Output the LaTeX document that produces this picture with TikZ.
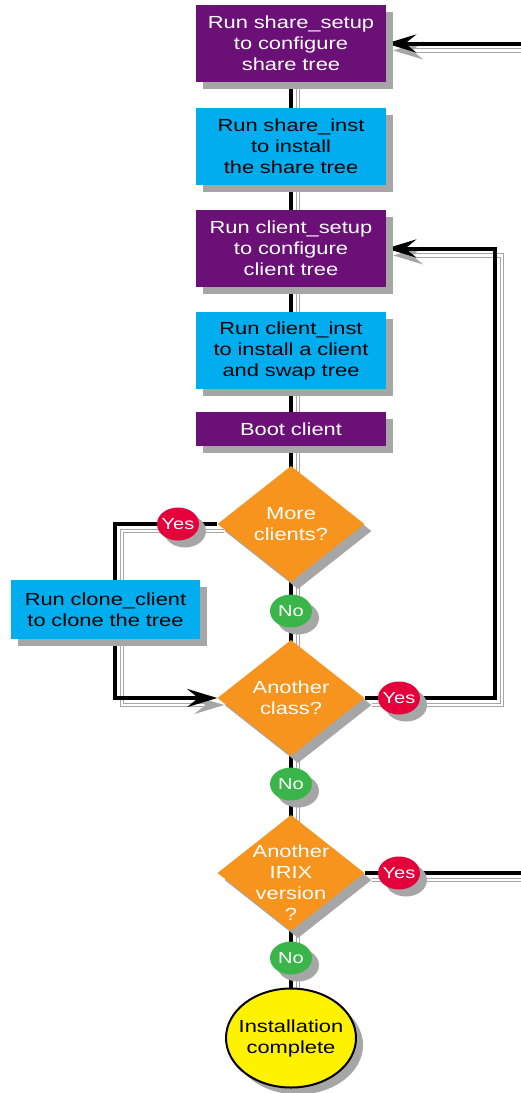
\documentclass[tikz,border=0pt]{standalone}
\usepackage{fontspec}
\setmainfont{Liberation Sans}[FakeStretch=1.25]
\usetikzlibrary{arrows.meta, shapes.geometric, shadows}
\definecolor{Plum}{HTML}{6B1077}
\definecolor{Sky}{HTML}{00AEEF}
\definecolor{Amber}{HTML}{F7941D}
\definecolor{Crimson}{HTML}{E4003B}
\definecolor{Leaf}{HTML}{39B54A}
\definecolor{Lemon}{HTML}{FFF200}
\pgfdeclarelayer{bg}
\pgfsetlayers{bg,main}

\tikzset{
  boxfont/.style={font=\fontsize{17.5}{21}\selectfont},
  shade/.style={drop shadow={shadow xshift=7pt, shadow yshift=-7pt, fill=black!35, opacity=1}},
  setupbox/.style={boxfont, shade, fill=Plum, text=white, minimum width=190pt, minimum height=77pt,
    text width=184pt, align=center, inner sep=0pt},
  instbox/.style={setupbox, fill=Sky, text=black},
  decision/.style={shade, diamond, fill=Amber, minimum width=147pt, minimum height=116pt, inner sep=0pt},
  dlabel/.style={boxfont, text=white, align=center},
  answer/.style={shade, ellipse, minimum width=42pt, minimum height=33pt, inner xsep=-4pt, inner ysep=0pt,
    text=white, font=\fontsize{16}{19}\selectfont},
  yesmark/.style={answer, fill=Crimson},
  nomark/.style={answer, fill=Leaf},
  endmark/.style={shade, ellipse, draw, line width=2pt, fill=Lemon, minimum width=130pt, minimum height=99pt, inner sep=0pt},
  link/.style={line width=4pt, preaction={draw=black!35, line width=1.2pt, double=white, double distance=2.5pt,
    transform canvas={shift={(7,7)}}}},
}

\begin{document}
\begin{tikzpicture}[x=1pt, y=-1pt, >={Stealth[length=30pt, width=18pt, inset=11pt]}]
  \useasboundingbox (0,0) rectangle (521,1093);

  \node (setshare) [setupbox] at (291,43.5) {Run share\_setup\\to configure\\share tree};
  \node (instshare) [instbox] at (291,146.5) {Run share\_inst\\to install\\the share tree};
  \node (setclient) [setupbox] at (291,248.5) {Run client\_setup\\to configure\\client tree};
  \node (instclient) [instbox] at (291,350.5) {Run client\_inst\\to install a client\\and swap tree};
  \node (boot) [setupbox, minimum height=34pt] at (291,429) {Boot client};

  \node (more) [decision, label={[dlabel]center:More\\clients?}] at (291,524) {};
  \node (yes1) [yesmark] at (178,524) {Yes};
  \node (clone) [instbox, minimum width=189pt, minimum height=59pt, text width=184pt] at (105.5,609.5)
    {Run clone\_client\\to clone the tree};
  \node (no1) [nomark] at (291,611) {No};

  \node (class) [decision, label={[dlabel]center:Another\\class?}] at (291,698) {};
  \node (yes2) [yesmark] at (399,698) {Yes};
  \node (no2) [nomark] at (291,784) {No};

  \node (irix) [decision, label={[dlabel, yshift=-10pt]center:Another\\IRIX\\version\\?}] at (291,873) {};
  \node (yes3) [yesmark] at (399,873) {Yes};
  \node (no3) [nomark] at (291,958) {No};

  \node (done) [endmark, label={[boxfont, align=center]center:Installation\\complete}] at (291,1038) {};

  \coordinate (lefttop) at (115,524);
  \coordinate (leftbot) at (115,698);
  \coordinate (righttop) at (495,248.5);
  \coordinate (rightbot) at (495,698);
  \coordinate (outlow) at (521,873);
  \coordinate (outhigh) at (521,43.5);

  \begin{pgfonlayer}{bg}
    \draw[link] (setshare) -- (done);
    \draw[link, ->] (more.west) -- (lefttop) -- (leftbot) -- (class.west);
    \draw[link, ->] (class.east) -- (rightbot) -- (righttop) -- (setclient.east);
    \draw[link] (irix.east) -- (outlow);
    \draw[link, ->] (outhigh) -- (setshare.east);
  \end{pgfonlayer}
\end{tikzpicture}
\end{document}
